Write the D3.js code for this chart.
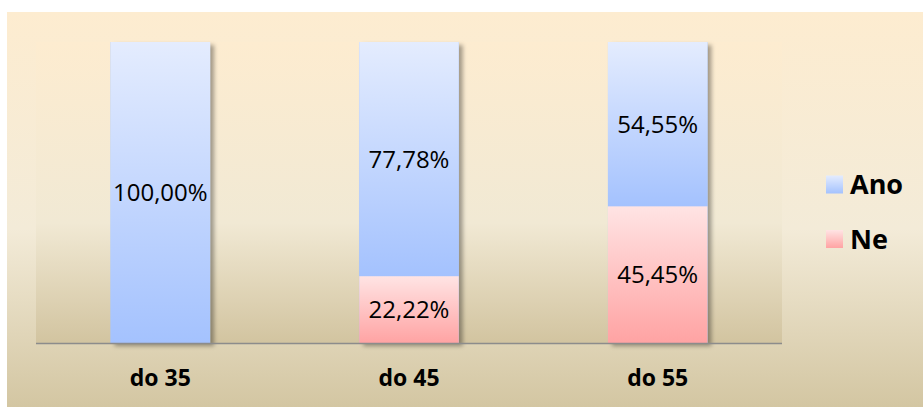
<!DOCTYPE html>
<html>
<head>
<meta charset="utf-8">
<script src="https://cdn.jsdelivr.net/npm/d3@7"></script>
<style>
  html, body { margin: 0; padding: 0; background: #ffffff; }
  svg { display: block; }
</style>
</head>
<body>
<svg id="chart" width="923" height="407"></svg>
<script>
const categories = ["do 35", "do 45", "do 55"];
const seriesNames = ["Ano", "Ne"];
const anoValues = [100.00, 77.78, 54.55];
const neValues = [0, 22.22, 45.45];
const valueLabels = {
  Ano: ["100,00%", "77,78%", "54,55%"],
  Ne: ["", "22,22%", "45,45%"]
};

const svg = d3.select("#chart");
const W = 923, H = 407;
const plot = { left: 36, right: 782, top: 42, bottom: 343 };

const defs = svg.append("defs");
function vGrad(id, stops) {
  const g = defs.append("linearGradient").attr("id", id)
    .attr("x1", 0).attr("y1", 0).attr("x2", 0).attr("y2", 1);
  stops.forEach(s => g.append("stop").attr("offset", s[0]).attr("stop-color", s[1]));
}
vGrad("bgOuter", [[0, "#fdecd0"], [0.55, "#f3ebd8"], [1, "#d3c6a2"]]);
vGrad("bgPlot", [[0, "#fdecd0"], [0.6, "#f1e9d4"], [1, "#d2c4a0"]]);
vGrad("gAno", [[0, "#e4ecfe"], [1, "#a4c2fe"]]);
vGrad("gNe", [[0, "#ffe4e4"], [1, "#ffa3a3"]]);

const f = defs.append("filter").attr("id", "shadow")
  .attr("x", "-20%").attr("y", "-5%").attr("width", "150%").attr("height", "115%");
f.append("feDropShadow").attr("dx", 4).attr("dy", 3).attr("stdDeviation", 2.2)
  .attr("flood-color", "#000").attr("flood-opacity", 0.35);

// backgrounds
svg.append("rect").attr("x", 7).attr("y", 12).attr("width", W - 7).attr("height", H - 12)
  .attr("fill", "url(#bgOuter)");
svg.append("rect").attr("x", plot.left).attr("y", plot.top)
  .attr("width", plot.right - plot.left).attr("height", plot.bottom - plot.top)
  .attr("fill", "url(#bgPlot)");

const x = d3.scaleBand().domain(categories).range([plot.left, plot.right])
  .paddingInner(0.6).paddingOuter(0.3);
const y = d3.scaleLinear().domain([0, 100]).range([plot.bottom, plot.top]);

const rows = categories.map((c, i) => ({ cat: c, Ano: anoValues[i], Ne: neValues[i], i }));
const stack = d3.stack().keys(["Ne", "Ano"])(rows);
const fills = { Ano: "url(#gAno)", Ne: "url(#gNe)" };

// bar shadow (whole stacked column)
svg.append("g").selectAll("rect").data(rows).join("rect")
  .attr("x", d => x(d.cat)).attr("width", x.bandwidth())
  .attr("y", d => y(d.Ano + d.Ne)).attr("height", d => y(0) - y(d.Ano + d.Ne))
  .attr("fill", "#a4c2fe").attr("filter", "url(#shadow)");

const layers = svg.append("g").selectAll("g").data(stack).join("g");
layers.selectAll("rect").data(s => s.map(d => ({ key: s.key, d }))).join("rect")
  .attr("x", o => x(o.d.data.cat)).attr("width", x.bandwidth())
  .attr("y", o => y(o.d[1])).attr("height", o => y(o.d[0]) - y(o.d[1]))
  .attr("fill", o => fills[o.key]);

// baseline
svg.append("line").attr("x1", plot.left).attr("x2", plot.right)
  .attr("y1", plot.bottom + 0.5).attr("y2", plot.bottom + 0.5)
  .attr("stroke", "#8c8c8c").attr("stroke-width", 1.5);

// value labels
const lbl = svg.append("g").attr("font-family", "'Open Sans', sans-serif")
  .attr("font-size", 24).attr("fill", "#000").attr("text-anchor", "middle");
stack.forEach(s => {
  s.forEach(d => {
    const t = valueLabels[s.key][d.data.i];
    if (!t || d[1] - d[0] <= 0) return;
    lbl.append("text")
      .attr("x", x(d.data.cat) + x.bandwidth() / 2)
      .attr("y", (y(d[0]) + y(d[1])) / 2)
      .attr("dy", "0.36em")
      .text(t);
  });
});

// x axis
const xAxis = svg.append("g").attr("transform", `translate(0,${plot.bottom})`)
  .call(d3.axisBottom(x).tickSize(0).tickPadding(0));
xAxis.select(".domain").remove();
xAxis.selectAll("text")
  .attr("y", 43).attr("dy", 0)
  .attr("font-family", "'Open Sans', sans-serif")
  .attr("font-size", 23).attr("font-weight", "bold").attr("fill", "#000");

// legend
const legend = svg.append("g");
const legY = [184.5, 239];
seriesNames.forEach((n, i) => {
  const g = legend.append("g").attr("transform", `translate(826,${legY[i]})`);
  g.append("rect").attr("x", 0).attr("y", -9).attr("width", 17).attr("height", 18)
    .attr("fill", fills[n]);
  g.append("text").attr("x", 24).attr("y", 0).attr("dy", "0.36em")
    .attr("font-family", "'Open Sans', sans-serif").attr("font-size", 27)
    .attr("font-weight", "bold").attr("fill", "#000").text(n);
});
</script>
</body>
</html>
